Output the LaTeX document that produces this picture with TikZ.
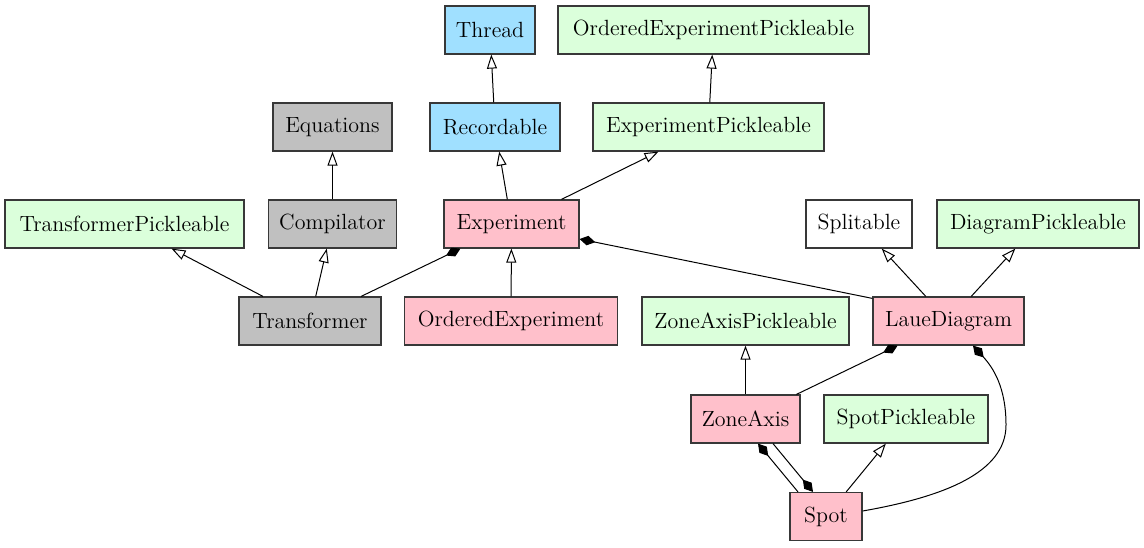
\documentclass[tikz,border=0pt]{standalone}
\usepackage{tikz}
\usetikzlibrary{arrows.meta}
\definecolor{boxpink}{RGB}{255,192,203}
\definecolor{boxgreen}{RGB}{219,255,219}
\definecolor{boxblue}{RGB}{160,224,255}
\definecolor{boxgray}{RGB}{192,192,192}
\definecolor{boxdraw}{RGB}{56,56,56}
\begin{document}
\begin{tikzpicture}[x=0.5pt,y=-0.5pt,
    every node/.style={font=\fontsize{11}{13}\selectfont},
    cls/.style={draw=boxdraw,line width=0.6pt,inner sep=0pt,minimum height=24pt},
    isa/.style={-{Triangle[open,length=7pt,width=5pt]},line width=0.5pt},
    has/.style={-{Diamond[length=8pt,width=4.8pt]},line width=0.5pt}]
        \useasboundingbox (0,0) rectangle (1144,547);
        % top rows
        \node[cls,fill=boxblue,minimum width=45pt] (thread) at (490,30) {Thread};
        \node[cls,fill=boxgreen,minimum width=155.5pt] (oep) at (713.5,30) {OrderedExperimentPickleable};
        \node[cls,fill=boxgray,minimum width=59.5pt] (eqs) at (332.5,127) {Equations};
        \node[cls,fill=boxblue,minimum width=65pt] (rec) at (495,127) {Recordable};
        \node[cls,fill=boxgreen,minimum width=115.5pt] (ep) at (708.5,127) {ExperimentPickleable};
        \node[cls,fill=boxgreen,minimum width=119.5pt] (tp) at (124.5,224) {TransformerPickleable};
        \node[cls,fill=boxgray,minimum width=64pt] (comp) at (332.5,224) {Compilator};
        \node[cls,fill=boxpink,minimum width=67.5pt] (exp) at (511.5,224) {Experiment};
        \node[cls,fill=white,minimum width=53pt] (split) at (859,224) {Splitable};
        \node[cls,fill=boxgreen,minimum width=101pt] (dp) at (1038,224) {DiagramPickleable};
        % lower rows
        \node[cls,fill=boxgray,minimum width=71pt] (trans) at (310,321) {Transformer};
        \node[cls,fill=boxpink,minimum width=106.5pt] (oe) at (511,321) {OrderedExperiment};
        \node[cls,fill=boxgreen,minimum width=103.5pt] (zap) at (745.5,321) {ZoneAxisPickleable};
        \node[cls,fill=boxpink,minimum width=75.5pt] (laue) at (948.5,321) {LaueDiagram};
        \node[cls,fill=boxpink,minimum width=54.5pt] (za) at (745.5,419) {ZoneAxis};
        \node[cls,fill=boxgreen,minimum width=82pt] (sp) at (906,419) {SpotPickleable};
        \node[cls,fill=boxpink,minimum width=36pt] (spot) at (826,516.5) {Spot};
        \coordinate (bend) at (1006,425);
        % inheritance
        \draw[isa] (rec)--(thread);
        \draw[isa] (ep)--(oep);
        \draw[isa] (comp)--(eqs);
        \draw[isa] (exp)--(rec);
        \draw[isa] (exp)--(ep);
        \draw[isa] (trans)--(tp);
        \draw[isa] (trans)--(comp);
        \draw[isa] (oe)--(exp);
        \draw[isa] (laue)--(split);
        \draw[isa] (laue)--(dp);
        \draw[isa] (za)--(zap);
        \draw[isa] (spot)--(sp);
        % composition
        \draw[has] (trans)--(exp);
        \draw[has] ([yshift=-1pt]laue.north west)--([yshift=-7.5pt]exp.east);
        \draw[has] (za)--(laue);
        \draw[has] ([xshift=-14pt]spot.north)--([xshift=6.25pt]za.south);
        \draw[has] ([xshift=13.75pt]za.south)--([xshift=-6.5pt]spot.north);
        \draw[has] ([yshift=2.75pt]spot.east) .. controls +(80,-14) and +(0,48) .. (bend)
            .. controls +(0,-38) and +(20,22) .. ([xshift=12.25pt]laue.south);
      \end{tikzpicture}
\end{document}
